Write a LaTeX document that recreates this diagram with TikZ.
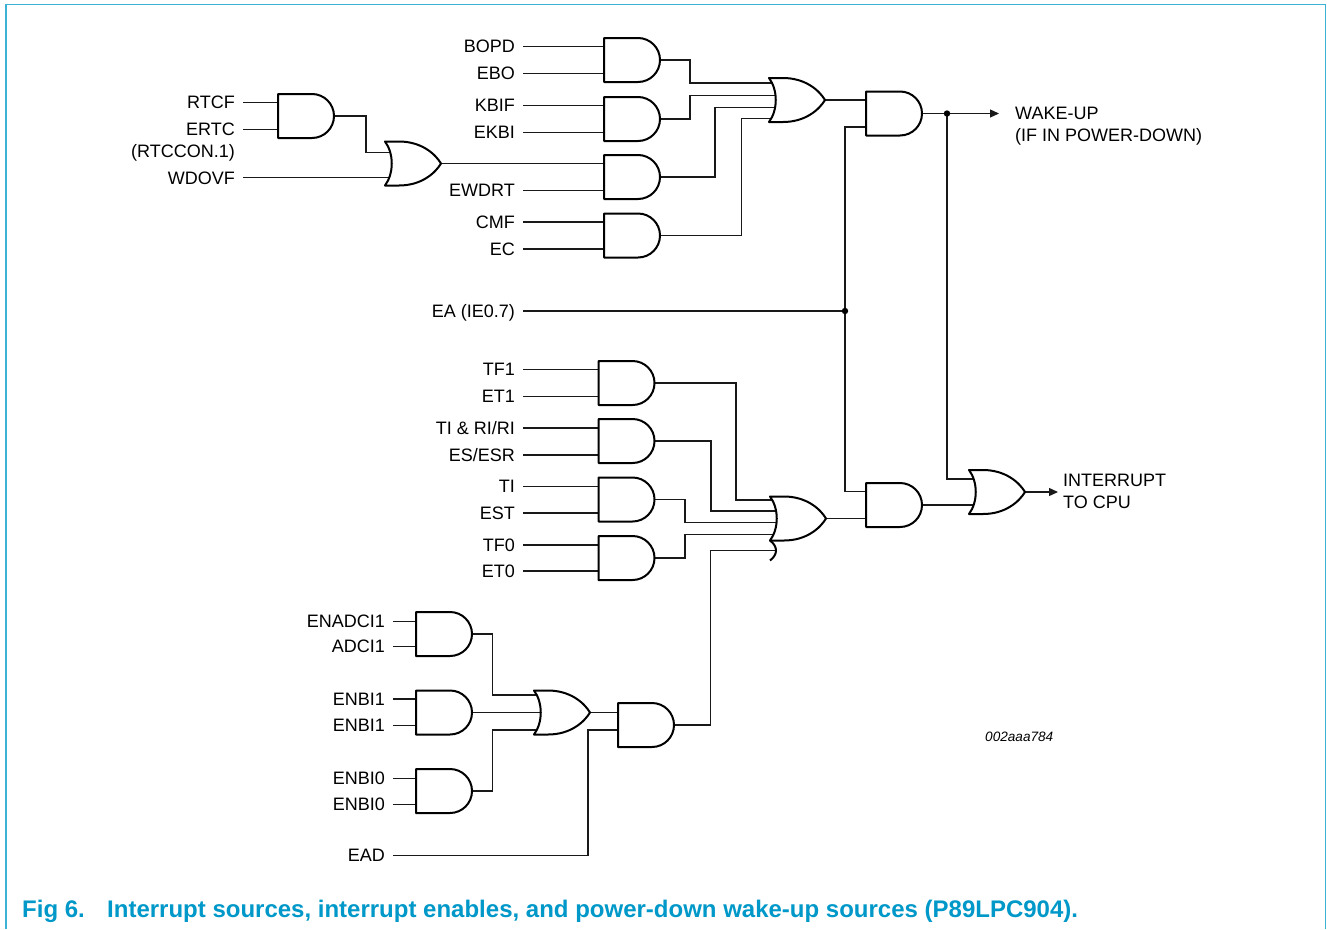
\documentclass[tikz,border=0pt]{standalone}
\usepackage{fontspec}
\setmainfont{Liberation Sans}
\usetikzlibrary{arrows.meta}
\definecolor{framecol}{RGB}{60,178,215}
\definecolor{capcol}{RGB}{0,152,200}
\newcommand\andg[3]{%
  \draw[gate] (#2,#3-22) -- (#2+34,#3-22) .. controls (#2+46.15,#3-22) and (#2+56,#3-12.15) .. (#2+56,#3)
     .. controls (#2+56,#3+12.15) and (#2+46.15,#3+22) .. (#2+34,#3+22) -- (#2,#3+22) -- cycle;
}
\newcommand\org[3]{%
  \draw[gate] (#2,#3-22) -- (#2+14,#3-22) .. controls (#2+36,#3-22) and (#2+50,#3-10) .. (#2+56,#3)
     .. controls (#2+50,#3+10) and (#2+36,#3+22) .. (#2+14,#3+22) -- (#2,#3+22)
     .. controls (#2+9,#3+10) and (#2+9,#3-10) .. (#2,#3-22) -- cycle;
}
\tikzset{
  wire/.style={line width=1.2pt, draw=black!90},
  gate/.style={line width=2pt, draw=black, fill=white, line join=round},
  lbl/.style={font=\fontsize{18}{21}\selectfont, anchor=east, inner xsep=8pt, inner ysep=0pt, text height=12.9pt, text depth=0pt},
  rlbl/.style={font=\fontsize{18}{21}\selectfont, anchor=west, inner sep=0pt, text height=12.9pt, text depth=0pt},
  caplbl/.style={anchor=west, inner sep=0pt, text height=17.2pt, text depth=0pt, text=capcol, font=\fontsize{24}{28}\selectfont\bfseries},
  arr/.style={wire, -{Triangle[length=9pt,width=8pt]}},
  dot/.style={fill=black},
}
\begin{document}
\begin{tikzpicture}[x=1pt,y=-1pt]
\useasboundingbox (0,0) rectangle (1327,929);
\draw[framecol, line width=1.6pt] (6,929) -- (6,4.5) -- (1325.5,4.5) -- (1325.5,929);

% ---------- coordinates for OR inputs ----------
\coordinate (or1-1) at (779,83);
\coordinate (or1-2) at (779,95.5);
\coordinate (or1-3) at (779,107.5);
\coordinate (or1-4) at (779,118.5);
\coordinate (or3-1) at (395,152.3);
\coordinate (or3-2) at (395,177.7);
\coordinate (or2-1) at (780,500);
\coordinate (or2-2) at (780,511);
\coordinate (or2-3) at (780,522.3);
\coordinate (or2-4) at (780,534.3);
\coordinate (or2-5) at (776,550.5);
\coordinate (or4-1) at (544,695);
\coordinate (or4-2) at (544,712.5);
\coordinate (or4-3) at (544,730);
\coordinate (orf-1) at (979,479);
\coordinate (orf-2) at (979,505);

% ---------- labels ----------
\node[lbl] (rtcf) at (243,102.5) {RTCF};
\node[lbl] (ertc) at (243,129.5) {ERTC};
\node[lbl] (rtccon) at (243,151) {(RTCCON.1)};
\node[lbl] (wdovf) at (243,177.7) {WDOVF};

\node[lbl] (bopd) at (523,46.5) {BOPD};
\node[lbl] (ebo) at (523,73.5) {EBO};
\node[lbl] (kbif) at (523,105.5) {KBIF};
\node[lbl] (ekbi) at (523,132.5) {EKBI};
\node[lbl] (ewdrt) at (523,190.5) {EWDRT};
\node[lbl] (cmf) at (523,222) {CMF};
\node[lbl] (ec) at (523,249) {EC};
\node[lbl] (ea) at (523,311) {EA (IE0.7)};

\node[lbl] (tf1) at (523,369.5) {TF1};
\node[lbl] (et1) at (523,396.5) {ET1};
\node[lbl] (tiri) at (523,428) {TI \& RI/RI};
\node[lbl] (esesr) at (523,455) {ES/ESR};
\node[lbl] (ti) at (523,486.5) {TI};
\node[lbl] (est) at (523,513) {EST};
\node[lbl] (tf0) at (523,545) {TF0};
\node[lbl] (et0) at (523,571) {ET0};

\node[lbl] (enadc) at (393,621.5) {ENADCI1};
\node[lbl] (adci) at (393,646.5) {ADCI1};
\node[lbl] (enbi1a) at (393,699) {ENBI1};
\node[lbl] (enbi1b) at (393,725.5) {ENBI1};
\node[lbl] (enbi0a) at (393,778.5) {ENBI0};
\node[lbl] (enbi0b) at (393,804.5) {ENBI0};
\node[lbl] (ead) at (393,855.5) {EAD};

\node[rlbl] (wake) at (1015,113) {WAKE-UP};
\node[rlbl] (wake2) at (1015,135.5) {(IF IN POWER-DOWN)};
\node[rlbl] (intr) at (1063,480) {INTERRUPT};
\node[rlbl] (intr2) at (1063,502.5) {TO CPU};
\node[anchor=west, inner sep=0pt, font=\fontsize{13.6}{16}\selectfont\itshape] (code) at (985,737) {002aaa784};

\node[caplbl] (fig) at (22,909) {Fig 6.};
\node[caplbl] (cap) at (107,909) {Interrupt sources, interrupt enables, and power-down wake-up sources (P89LPC904).};

% ---------- gate terminals ----------
\coordinate (rA-a) at (278,102.5); \coordinate (rA-b) at (278,129.5); \coordinate (rA-o) at (334,116);
\coordinate (or3-o) at (441,163.5);
\coordinate (g1-a) at (604,46.5); \coordinate (g1-b) at (604,73.5); \coordinate (g1-o) at (660,60);
\coordinate (g2-a) at (604,105.5); \coordinate (g2-b) at (604,132.5); \coordinate (g2-o) at (660,119);
\coordinate (g3-a) at (604,163.5); \coordinate (g3-b) at (604,190.5); \coordinate (g3-o) at (660,177);
\coordinate (g4-a) at (604,222); \coordinate (g4-b) at (604,249); \coordinate (g4-o) at (660,235.5);
\coordinate (or1-o) at (825,100);
\coordinate (wk-a) at (866,100); \coordinate (wk-b) at (866,127); \coordinate (wk-o) at (922,113.5);
\coordinate (m1-a) at (598.5,369.5); \coordinate (m1-b) at (598.5,396.5); \coordinate (m1-o) at (654.5,383);
\coordinate (m2-a) at (598.5,428); \coordinate (m2-b) at (598.5,455); \coordinate (m2-o) at (654.5,441);
\coordinate (m3-a) at (598.5,486.5); \coordinate (m3-b) at (598.5,513); \coordinate (m3-o) at (654.5,499.5);
\coordinate (m4-a) at (598.5,545); \coordinate (m4-b) at (598.5,571); \coordinate (m4-o) at (654.5,558);
\coordinate (or2-o) at (826,518.5);
\coordinate (in-a) at (866,491.5); \coordinate (in-b) at (866,518.5); \coordinate (in-o) at (922,505);
\coordinate (orf-o) at (1025,492);
\coordinate (b1-a) at (416,621.5); \coordinate (b1-b) at (416,646.5); \coordinate (b1-o) at (472,634);
\coordinate (b2-a) at (416,699); \coordinate (b2-b) at (416,725.5); \coordinate (b2-o) at (472,712.5);
\coordinate (b3-a) at (416,778.5); \coordinate (b3-b) at (416,804.5); \coordinate (b3-o) at (472,791);
\coordinate (or4-o) at (590,712.5);
\coordinate (b5-a) at (618,712.5); \coordinate (b5-b) at (618,730); \coordinate (b5-o) at (674,725);
\coordinate (eaj) at (845,311);
\coordinate (wkj) at (947,113.5);
\coordinate (wkend) at (999,113.5);
\coordinate (intend) at (1058,492);

% ---------- wires ----------
\draw[wire] (rtcf) -- (rA-a);
\draw[wire] (ertc) -- (rA-b);
\draw[wire] (wdovf) -- (or3-2);
\draw[wire] (rA-o) -| (366,152.3) -- (or3-1);
\draw[wire] (or3-o) -- (g3-a);

\draw[wire] (bopd) -- (g1-a);
\draw[wire] (ebo) -- (g1-b);
\draw[wire] (kbif) -- (g2-a);
\draw[wire] (ekbi) -- (g2-b);
\draw[wire] (ewdrt) -- (g3-b);
\draw[wire] (cmf) -- (g4-a);
\draw[wire] (ec) -- (g4-b);
\draw[wire] (g1-o) -| (690,83) -- (or1-1);
\draw[wire] (g2-o) -| (690,95.5) -- (or1-2);
\draw[wire] (g3-o) -| (715,107.5) -- (or1-3);
\draw[wire] (g4-o) -| (741.5,118.5) -- (or1-4);
\draw[wire] (or1-o) -- (wk-a);
\draw[wire] (wk-b) -| (eaj) |- (in-a);
\draw[wire] (ea) -- (eaj);
\draw[arr] (wk-o) -- (wkend);
\draw[wire] (wkj) |- (orf-1);

\draw[wire] (tf1) -- (m1-a);
\draw[wire] (et1) -- (m1-b);
\draw[wire] (tiri) -- (m2-a);
\draw[wire] (esesr) -- (m2-b);
\draw[wire] (ti) -- (m3-a);
\draw[wire] (est) -- (m3-b);
\draw[wire] (tf0) -- (m4-a);
\draw[wire] (et0) -- (m4-b);
\draw[wire] (m1-o) -| (736,500) -- (or2-1);
\draw[wire] (m2-o) -| (711,511) -- (or2-2);
\draw[wire] (m3-o) -| (685,522.3) -- (or2-3);
\draw[wire] (m4-o) -| (685,534.3) -- (or2-4);
\draw[wire] (b5-o) -| (710.5,550.5) -- (or2-5);
\draw[wire] (or2-o) -- (in-b);
\draw[wire] (in-o) -- (orf-2);
\draw[arr] (orf-o) -- (intend);

\draw[wire] (enadc) -- (b1-a);
\draw[wire] (adci) -- (b1-b);
\draw[wire] (enbi1a) -- (b2-a);
\draw[wire] (enbi1b) -- (b2-b);
\draw[wire] (enbi0a) -- (b3-a);
\draw[wire] (enbi0b) -- (b3-b);
\draw[wire] (b1-o) -| (492.7,695) -- (or4-1);
\draw[wire] (b2-o) -- (or4-2);
\draw[wire] (b3-o) -| (492.7,730) -- (or4-3);
\draw[wire] (or4-o) -- (b5-a);
\draw[wire] (ead) -| (588,730) -- (b5-b);

% ---------- gates ----------
\andg{rA}{278}{116}
\org{or3}{385}{163.5}
\andg{g1}{604}{60}
\andg{g2}{604}{119}
\andg{g3}{604}{177}
\andg{g4}{604}{235.5}
\org{or1}{769}{100}
\andg{wk}{866}{113.5}
\andg{m1}{598.5}{383}
\andg{m2}{598.5}{441}
\andg{m3}{598.5}{499.5}
\andg{m4}{598.5}{558}
\org{or2}{770}{518.5}
\draw[gate, fill=none] (770,540.5) .. controls (778,546.5) and (778,554.5) .. (770,560.5);
\andg{in}{866}{505}
\org{orf}{969}{492}
\andg{b1}{416}{634}
\andg{b2}{416}{712.5}
\andg{b3}{416}{791}
\org{or4}{534}{712.5}
\andg{b5}{618}{725}

\fill[dot] (eaj) circle[radius=3.2pt];
\fill[dot] (wkj) circle[radius=3.2pt];
\end{tikzpicture}
\end{document}
